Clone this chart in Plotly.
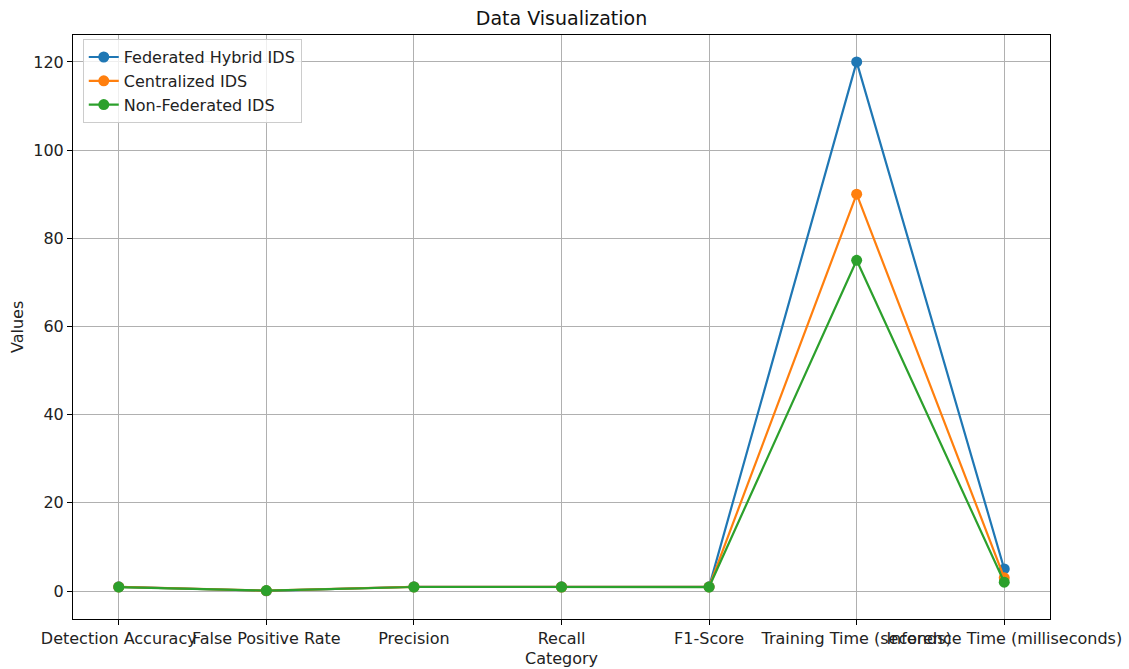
import plotly.graph_objects as go

categories = ["Detection Accuracy", "False Positive Rate", "Precision", "Recall",
              "F1-Score", "Training Time (seconds)", "Inference Time (milliseconds)"]
federated_hybrid = [0.95, 0.05, 0.96, 0.94, 0.95, 120, 5]
centralized = [0.92, 0.08, 0.93, 0.91, 0.92, 90, 3]
non_federated = [0.90, 0.10, 0.91, 0.89, 0.90, 75, 2]

series = [
    ("Federated Hybrid IDS", federated_hybrid, "#1f77b4"),
    ("Centralized IDS", centralized, "#ff7f0e"),
    ("Non-Federated IDS", non_federated, "#2ca02c"),
]

fig = go.Figure()
for name, vals, color in series:
    fig.add_trace(go.Scatter(
        x=list(range(len(categories))), y=vals, name=name, mode="lines+markers",
        line=dict(color=color, width=2.2), marker=dict(color=color, size=11),
    ))

W, H = 1129, 669
font = "DejaVu Sans, sans-serif"
fig.update_layout(
    width=W, height=H,
    margin=dict(l=73, r=79, t=35, b=50, autoexpand=False),
    paper_bgcolor="white", plot_bgcolor="white",
    font=dict(family=font, size=16, color="#222"),
    title=dict(text="Data Visualization", x=0.5, xref="paper", xanchor="center",
               y=1 - 18 / H, yanchor="middle", font=dict(size=19, color="#111")),
    showlegend=True,
    legend=dict(x=0.01, y=0.993, xanchor="left", yanchor="top",
                bgcolor="rgba(255,255,255,0.8)", bordercolor="#cccccc", borderwidth=1,
                font=dict(size=16), tracegroupgap=0),
    hovermode=False,
    annotations=[
        dict(text="Category", xref="paper", yref="paper", x=0.5, y=0,
             xanchor="center", yanchor="middle", yshift=-39,
             showarrow=False, font=dict(size=16, color="#222")),
        dict(text="Values", xref="paper", yref="paper", x=0, y=0.5,
             xanchor="center", yanchor="middle", xshift=-56, textangle=-90,
             showarrow=False, font=dict(size=16, color="#222")),
    ],
)
fig.update_xaxes(
    tickmode="array", tickvals=list(range(len(categories))), ticktext=categories,
    range=[-0.31, 6.31], tickangle=0, showgrid=True, gridcolor="#b0b0b0", gridwidth=1,
    showline=True, linecolor="black", linewidth=1, mirror=True,
    ticks="outside", ticklen=5, tickcolor="black", zeroline=False,
    automargin=False, ticklabeloverflow="allow",
    tickfont=dict(size=16),
)
fig.update_yaxes(
    range=[-6.35, 126.1], tickvals=[0, 20, 40, 60, 80, 100, 120],
    showgrid=True, gridcolor="#b0b0b0", gridwidth=1,
    showline=True, linecolor="black", linewidth=1, mirror=True,
    ticks="outside", ticklen=5, tickcolor="black", zeroline=False,
    automargin=False,
    tickfont=dict(size=16),
)

fig.write_html("out.html", config={"displayModeBar": False},
               post_script="document.body.style.margin='0';document.body.style.overflow='hidden';")
